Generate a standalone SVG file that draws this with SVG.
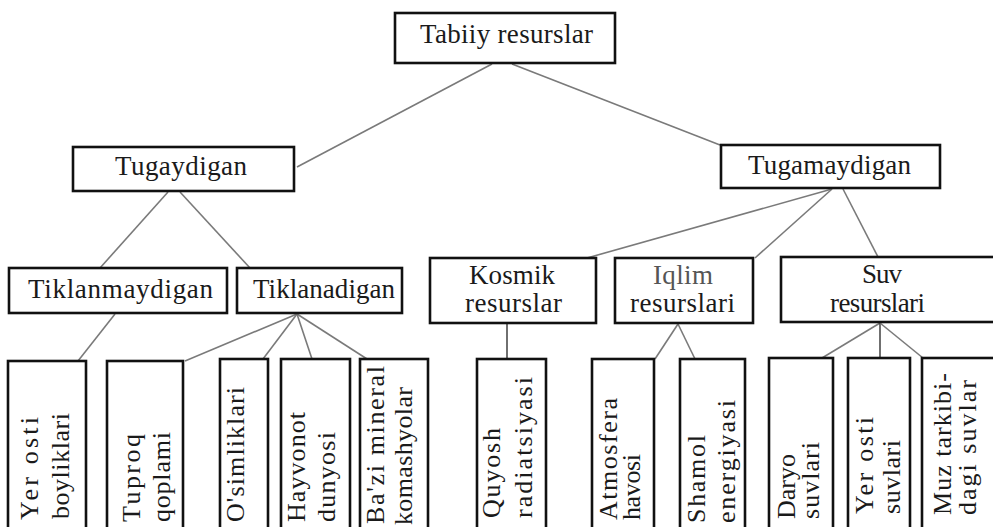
<svg xmlns="http://www.w3.org/2000/svg" width="993" height="527" viewBox="0 0 993 527">
<style>
  .box { fill: #ffffff; stroke: #111111; stroke-width: 2.6; }
  .t { font-family: "Liberation Serif", "Times New Roman", serif; font-size: 27px; fill: #1a1a1a; }
  .v { font-size: 26px; }
  .light { fill: #555555; }
  .conn line { stroke: #7a7a7a; stroke-width: 1.6; fill: none; }
  .conn line.dark { stroke: #333333; stroke-width: 1.4; }
</style>
<rect width="993" height="527" fill="#ffffff"/>
<g id="connectors" class="conn">
  <line x1="492" y1="64" x2="297" y2="167"/>
  <line x1="512" y1="64" x2="720" y2="145"/>
  <line x1="168" y1="192" x2="100" y2="268"/>
  <line x1="180" y1="192" x2="250" y2="268"/>
  <line x1="115" y1="314" x2="78" y2="361"/>
  <line x1="297" y1="314" x2="185" y2="361"/>
  <line x1="297" y1="314" x2="263" y2="359"/>
  <line x1="297" y1="314" x2="312" y2="359"/>
  <line x1="297" y1="314" x2="367" y2="359"/>
  <line x1="832" y1="189" x2="587" y2="258"/>
  <line x1="832" y1="189" x2="755" y2="258"/>
  <line x1="843" y1="189" x2="878" y2="257"/>
  <line class="dark" x1="507" y1="324" x2="507" y2="359"/>
  <line x1="678" y1="324" x2="655" y2="359"/>
  <line x1="678" y1="324" x2="695" y2="359"/>
  <line x1="880" y1="323" x2="822" y2="358"/>
  <line class="dark" x1="880" y1="323" x2="880" y2="358"/>
  <line x1="880" y1="323" x2="923" y2="358"/>
</g>
<g id="tabiiy-resurslar">
  <rect class="box" x="395" y="13" width="220" height="50"/>
  <text class="t" x="420" y="43" textLength="173" lengthAdjust="spacing">Tabiiy resurslar</text>
</g>
<g id="tugaydigan">
  <rect class="box" x="73" y="147" width="221" height="44"/>
  <text class="t" x="115" y="175" textLength="132" lengthAdjust="spacing">Tugaydigan</text>
</g>
<g id="tugamaydigan">
  <rect class="box" x="721" y="145" width="219" height="43"/>
  <text class="t" x="748" y="174" textLength="163" lengthAdjust="spacing">Tugamaydigan</text>
</g>
<g id="tiklanmaydigan">
  <rect class="box" x="9" y="268" width="218" height="45"/>
  <text class="t" x="28" y="298" textLength="185" lengthAdjust="spacing">Tiklanmaydigan</text>
</g>
<g id="tiklanadigan">
  <rect class="box" x="237" y="268" width="165" height="45"/>
  <text class="t" x="253" y="298" textLength="142" lengthAdjust="spacing">Tiklanadigan</text>
</g>
<g id="kosmik-resurslar">
  <rect class="box" x="430" y="258" width="166" height="65"/>
  <text class="t" x="469" y="284" textLength="86" lengthAdjust="spacing">Kosmik</text>
  <text class="t" x="465" y="312" textLength="97" lengthAdjust="spacing">resurslar</text>
</g>
<g id="iqlim-resurslari">
  <rect class="box" x="615" y="258" width="138" height="65"/>
  <text class="t light" x="653" y="284" textLength="60" lengthAdjust="spacing">Iqlim</text>
  <text class="t" x="630" y="312" textLength="105" lengthAdjust="spacing">resurslari</text>
</g>
<g id="suv-resurslari">
  <rect class="box" x="781" y="257" width="230" height="65"/>
  <text class="t" x="862" y="283" textLength="40" lengthAdjust="spacing">Suv</text>
  <text class="t" x="830" y="312" textLength="95" lengthAdjust="spacing">resurslari</text>
</g>
<g id="yer-osti-boyliklari">
  <rect class="box" x="8" y="361" width="78" height="180"/>
  <text class="t v" transform="translate(38,520) rotate(-90)" textLength="103" lengthAdjust="spacing">Yer osti</text>
  <text class="t v" transform="translate(69,519) rotate(-90)" textLength="106" lengthAdjust="spacing">boyliklari</text>
</g>
<g id="tuproq-qoplami">
  <rect class="box" x="107" y="361" width="76" height="180"/>
  <text class="t v" transform="translate(140,522) rotate(-90)" textLength="88" lengthAdjust="spacing">Tuproq</text>
  <text class="t v" transform="translate(170,522) rotate(-90)" textLength="90" lengthAdjust="spacing">qoplami</text>
</g>
<g id="osimliklari">
  <rect class="box" x="220" y="359" width="48" height="182"/>
  <text class="t v" transform="translate(244,522) rotate(-90)" textLength="135" lengthAdjust="spacing">O'simliklari</text>
</g>
<g id="hayvonot-dunyosi">
  <rect class="box" x="281" y="359" width="69" height="182"/>
  <text class="t v" transform="translate(305,522) rotate(-90)" textLength="110" lengthAdjust="spacing">Hayvonot</text>
  <text class="t v" transform="translate(335,522) rotate(-90)" textLength="90" lengthAdjust="spacing">dunyosi</text>
</g>
<g id="bazi-mineral-komashyolar">
  <rect class="box" x="360" y="359" width="68" height="182"/>
  <text class="t v" transform="translate(384,524) rotate(-90)" textLength="158" lengthAdjust="spacing">Ba'zi mineral</text>
  <text class="t v" transform="translate(412,525) rotate(-90)" textLength="138" lengthAdjust="spacing">komashyolar</text>
</g>
<g id="quyosh-radiatsiyasi">
  <rect class="box" x="477" y="359" width="69" height="182"/>
  <text class="t v" transform="translate(500,518) rotate(-90)" textLength="90" lengthAdjust="spacing">Quyosh</text>
  <text class="t v" transform="translate(532,518) rotate(-90)" textLength="141" lengthAdjust="spacing">radiatsiyasi</text>
</g>
<g id="atmosfera-havosi">
  <rect class="box" x="592" y="359" width="62" height="182"/>
  <text class="t v" transform="translate(617,520) rotate(-90)" textLength="122" lengthAdjust="spacing">Atmosfera</text>
  <text class="t v" transform="translate(640,520) rotate(-90)" textLength="66" lengthAdjust="spacing">havosi</text>
</g>
<g id="shamol-energiyasi">
  <rect class="box" x="680" y="359" width="65" height="182"/>
  <text class="t v" transform="translate(705,523) rotate(-90)" textLength="88" lengthAdjust="spacing">Shamol</text>
  <text class="t v" transform="translate(735,523) rotate(-90)" textLength="123" lengthAdjust="spacing">energiyasi</text>
</g>
<g id="daryo-suvlari">
  <rect class="box" x="769" y="358" width="64" height="183"/>
  <text class="t v" transform="translate(795,519) rotate(-90)">Daryo</text>
  <text class="t v" transform="translate(819,519) rotate(-90)" textLength="77" lengthAdjust="spacing">suvlari</text>
</g>
<g id="yer-osti-suvlari">
  <rect class="box" x="848" y="358" width="62" height="183"/>
  <text class="t v" transform="translate(873,514) rotate(-90)" textLength="97" lengthAdjust="spacing">Yer osti</text>
  <text class="t v" transform="translate(900,514) rotate(-90)" textLength="74" lengthAdjust="spacing">suvlari</text>
</g>
<g id="muz-tarkibidagi-suvlar">
  <rect class="box" x="922" y="358" width="80" height="183"/>
  <text class="t v" transform="translate(951,515) rotate(-90)" textLength="142" lengthAdjust="spacing">Muz tarkibi-</text>
  <text class="t v" transform="translate(976,515) rotate(-90)" textLength="135" lengthAdjust="spacing">dagi suvlar</text>
</g>
</svg>
